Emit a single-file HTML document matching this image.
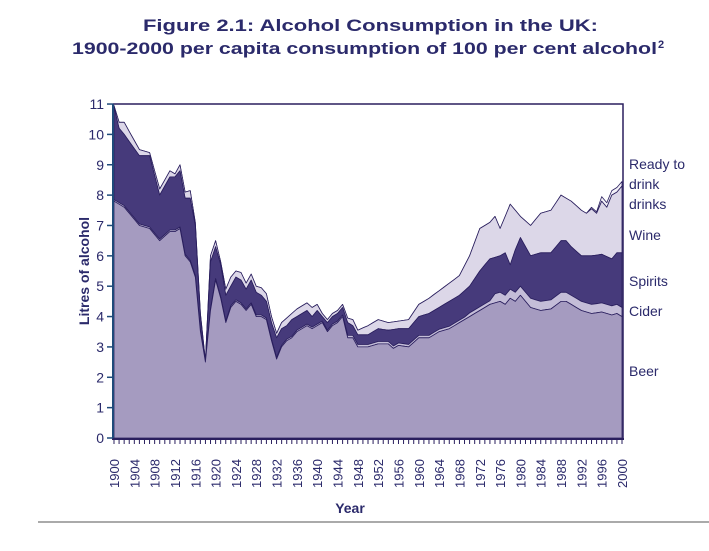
<!DOCTYPE html>
<html><head><meta charset="utf-8"><style>
body{margin:0;background:#fff;width:709px;height:546px;overflow:hidden;font-family:"Liberation Sans",sans-serif}
</style></head><body>
<svg id="s" width="709" height="546" xmlns="http://www.w3.org/2000/svg" font-family="Liberation Sans, sans-serif">
<text x="143" y="31" textLength="455" lengthAdjust="spacingAndGlyphs" font-size="17" font-weight="bold" fill="#2b2a6b">Figure 2.1: Alcohol Consumption in the UK:</text>
<text x="72" y="54" textLength="585" lengthAdjust="spacingAndGlyphs" font-size="17" font-weight="bold" fill="#2b2a6b">1900-2000 per capita consumption of 100 per cent alcohol</text>
<text x="658" y="48" font-size="11" font-weight="bold" fill="#2b2a6b">2</text>
<g id="plot"></g>
<text x="350" y="513" text-anchor="middle" font-size="14" font-weight="bold" fill="#2b2a6b">Year</text>
<text transform="translate(89,271) rotate(-90)" text-anchor="middle" font-size="14" font-weight="bold" fill="#2b2a6b">Litres of alcohol</text>
<g font-size="14" fill="#2b2a6b">
<text x="629" y="169">Ready to</text><text x="629" y="189">drink</text><text x="629" y="209">drinks</text>
<text x="629" y="240">Wine</text><text x="629" y="286">Spirits</text><text x="629" y="316">Cider</text><text x="629" y="376">Beer</text>
</g>
<line x1="38" y1="522" x2="709" y2="522" stroke="#555" stroke-width="1"/>
</svg>
<script>
function interp(pts){var r=[];for(var y=1900;y<=2000;y++){for(var i=0;i<pts.length-1;i++){var a=pts[i],b=pts[i+1];if(y>=a[0]&&y<=b[0]){r.push(a[1]+(b[1]-a[1])*(y-a[0])/(b[0]-a[0]||1));break;}}}return r;}
var beer=interp([[1900,7.8],[1902,7.6],[1905,7.0],[1907,6.9],[1909,6.5],[1911,6.8],[1912,6.8],[1913,6.9],[1914,6.0],[1915,5.8],[1916,5.3],[1917,3.5],[1918,2.5],[1919,4.2],[1920,5.2],[1921,4.6],[1922,3.8],[1923,4.3],[1924,4.5],[1925,4.4],[1926,4.2],[1927,4.4],[1928,4.0],[1929,4.0],[1930,3.9],[1931,3.2],[1932,2.6],[1933,3.0],[1934,3.2],[1935,3.3],[1936,3.5],[1937,3.6],[1938,3.7],[1939,3.6],[1940,3.7],[1941,3.8],[1942,3.5],[1943,3.7],[1944,3.8],[1945,4.0],[1946,3.3],[1947,3.3],[1948,3.0],[1950,3.0],[1952,3.1],[1954,3.1],[1955,2.95],[1956,3.05],[1958,3.0],[1960,3.3],[1962,3.3],[1964,3.5],[1966,3.6],[1968,3.8],[1970,4.0],[1972,4.2],[1974,4.4],[1976,4.5],[1977,4.4],[1978,4.6],[1979,4.5],[1980,4.7],[1982,4.3],[1984,4.2],[1986,4.25],[1988,4.5],[1989,4.5],[1990,4.4],[1992,4.2],[1994,4.1],[1996,4.15],[1998,4.05],[1999,4.1],[2000,4.0]]);
var spirits=interp([[1900,10.9],[1901,10.2],[1902,10.0],[1905,9.3],[1907,9.3],[1909,8.0],[1911,8.6],[1912,8.6],[1913,8.8],[1914,7.9],[1915,7.9],[1916,7.0],[1917,4.0],[1918,2.5],[1919,5.8],[1920,6.3],[1921,5.7],[1922,4.7],[1923,5.0],[1924,5.3],[1925,5.2],[1926,4.9],[1927,5.2],[1928,4.8],[1929,4.7],[1930,4.5],[1931,3.8],[1932,3.3],[1933,3.6],[1934,3.7],[1935,3.9],[1936,4.0],[1937,4.1],[1938,4.2],[1939,4.0],[1940,4.2],[1941,4.0],[1942,3.8],[1943,4.0],[1944,4.1],[1945,4.3],[1946,3.8],[1947,3.7],[1948,3.4],[1950,3.4],[1952,3.6],[1954,3.55],[1956,3.6],[1958,3.6],[1960,4.0],[1962,4.1],[1964,4.3],[1966,4.5],[1968,4.7],[1970,5.0],[1972,5.5],[1974,5.9],[1976,6.0],[1977,6.1],[1978,5.7],[1979,6.2],[1980,6.6],[1982,6.0],[1984,6.1],[1986,6.1],[1988,6.5],[1989,6.5],[1990,6.3],[1992,6.0],[1994,6.0],[1996,6.05],[1998,5.9],[1999,6.1],[2000,6.1]]);
var wine=interp([[1900,10.95],[1901,10.4],[1902,10.4],[1905,9.5],[1907,9.4],[1909,8.2],[1911,8.8],[1912,8.7],[1913,9.0],[1914,8.1],[1915,8.15],[1916,7.1],[1917,4.1],[1918,2.55],[1919,6.0],[1920,6.5],[1921,5.8],[1922,4.9],[1923,5.3],[1924,5.5],[1925,5.45],[1926,5.1],[1927,5.4],[1928,5.0],[1929,4.95],[1930,4.75],[1931,4.0],[1932,3.45],[1933,3.8],[1934,3.95],[1935,4.1],[1936,4.25],[1937,4.35],[1938,4.45],[1939,4.3],[1940,4.4],[1941,4.1],[1942,3.9],[1943,4.1],[1944,4.2],[1945,4.4],[1946,3.95],[1947,3.9],[1948,3.55],[1950,3.7],[1952,3.9],[1954,3.8],[1956,3.85],[1958,3.9],[1960,4.4],[1962,4.6],[1964,4.85],[1966,5.1],[1968,5.35],[1970,6.0],[1972,6.9],[1974,7.1],[1975,7.3],[1976,6.9],[1977,7.3],[1978,7.7],[1980,7.3],[1982,7.0],[1984,7.4],[1986,7.5],[1988,8.0],[1990,7.8],[1992,7.5],[1993,7.4],[1994,7.55],[1995,7.4],[1996,7.8],[1997,7.6],[1998,8.0],[1999,8.1],[2000,8.3]]);
var cider=beer.map(function(v,i){var y=1900+i;return v+(y<1946?0.05:y<1970?0.08:y<1975?0.12:0.3);});
var rtd=wine.map(function(v,i){var y=1900+i;return v+(y<1994?0:y<1996?0.05:0.15);});
var X=function(i){return 114+i*5.08},Y=function(v){return 438-v*30.36};
function area(top,bot,fill){var d="M"+X(0)+","+Y(top[0]);for(var i=1;i<top.length;i++)d+="L"+X(i).toFixed(1)+","+Y(top[i]).toFixed(1);
for(var i=bot.length-1;i>=0;i--)d+="L"+X(i).toFixed(1)+","+Y(bot[i]).toFixed(1);return '<path d="'+d+'Z" fill="'+fill+'" stroke="#2a1f5e" stroke-width="0.8" stroke-linejoin="round"/>';}
var zero=beer.map(function(){return 0});
var h='';
h+=area(rtd,wine,"#f3f1f8");
h+=area(wine,spirits,"#dcd7e8");
h+=area(spirits,cider,"#463a7b");
h+=area(cider,beer,"#c4bdd8");
h+=area(beer,zero,"#a59bc0");
h+='<path d="M113,104 H623 V438" fill="none" stroke="#2a1f5e" stroke-width="1.5"/>';
h+='<line x1="113" y1="104" x2="113" y2="439" stroke="#1f4a7a" stroke-width="2"/>';
h+='<line x1="112" y1="439" x2="624" y2="439" stroke="#2a1f5e" stroke-width="2"/>';
for(var v=0;v<=11;v++){var y=Y(v);h+='<line x1="107" y1="'+y+'" x2="113" y2="'+y+'" stroke="#1f4a7a" stroke-width="1.5"/>';
h+='<text x="104" y="'+(y+5)+'" text-anchor="end" font-size="14" fill="#2b2a6b">'+v+'</text>';}
for(var i=0;i<=100;i++){h+='<line x1="'+X(i)+'" y1="439" x2="'+X(i)+'" y2="444" stroke="#2a1f5e" stroke-width="1"/>';
if(i%4==0)h+='<text transform="translate('+(X(i)+5)+',488) rotate(-90)" font-size="13" fill="#2b2a6b">'+(1900+i)+'</text>';}
document.getElementById('plot').innerHTML=h;
</script>
</body></html>
